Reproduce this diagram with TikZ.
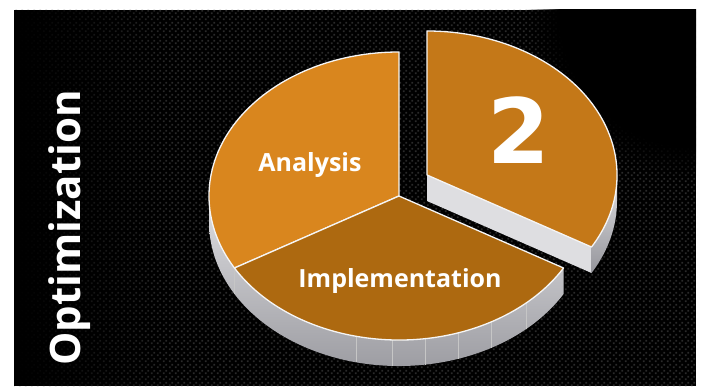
\documentclass[tikz,border=0pt]{standalone}
\usepackage{fontspec}
\setmainfont{Open Sans}
\newfontfamily\digitfont{DejaVu Sans}
\usetikzlibrary{patterns, fadings, calc}
\definecolor{analysis_orange}{RGB}{217,134,30}
\definecolor{impl_brown}{RGB}{173,105,16}
\definecolor{slice_orange}{RGB}{196,120,24}
\definecolor{rim_light}{RGB}{222,222,225}
\definecolor{rim_dark}{RGB}{150,150,156}
\definecolor{carbon_dot}{RGB}{42,42,42}
\pgfdeclarepatternformonly{carbonweave}{\pgfqpoint{0pt}{0pt}}{\pgfqpoint{6pt}{6pt}}{\pgfqpoint{6pt}{6pt}}{%
  \pgfpathrectangle{\pgfqpoint{1pt}{1pt}}{\pgfqpoint{2pt}{2pt}}%
  \pgfpathrectangle{\pgfqpoint{4pt}{4pt}}{\pgfqpoint{2pt}{2pt}}%
  \pgfusepath{fill}}

\begin{document}
\begin{tikzpicture}[x=1pt, y=1pt, line join=round,
    slicetop/.style={draw=white!92!gray, line width=1.3pt},
    rim/.style={top color=rim_light, bottom color=rim_dark},
    label/.style={text=white, font=\bfseries\fontsize{25}{30}\selectfont}]
  \useasboundingbox (0,0) rectangle (701,386);
  % carbon background
  \fill[black] (14,0) rectangle (696,376);
  \begin{scope}
    \clip (14,0) rectangle (696,376);
    \fill[pattern=carbonweave, pattern color=carbon_dot] (14,0) rectangle (696,376);
    \fill[black, path fading=east] (14,0) rectangle (170,376);
    \fill[black, path fading=circle with fuzzy edge 20 percent] (696,376) circle (170);
  \end{scope}
  \coordinate (C) at (399,190);
  \coordinate (E) at (427,211);
  % pulled-out slice, sides
  \fill[rim_light] (E) -- ++(330:190pt and 144pt) -- ++(0,-26) -- ($(E)+(0,-26)$) -- cycle;
  \fill[rim] (E) ++(330:190pt and 144pt) arc[start angle=330, end angle=360, x radius=190pt, y radius=144pt]
    -- ++(0,-26) arc[start angle=360, end angle=330, x radius=190pt, y radius=144pt] -- cycle;
  % main pie, side
  \fill[rim] (C) ++(180:190pt and 144pt) arc[start angle=180, end angle=330, x radius=190pt, y radius=144pt]
    -- ++(0,-26) arc[start angle=330, end angle=180, x radius=190pt, y radius=144pt] -- cycle;
  \foreach \t in {210,257,268,278,288,299,312}
    \draw[gray!45, line width=0.4pt] (C) ++(\t:190pt and 144pt) -- ++(0,-26);
  % top faces
  \filldraw[slicetop, fill=analysis_orange] (C) -- ++(90:190pt and 144pt)
    arc[start angle=90, end angle=210, x radius=190pt, y radius=144pt] -- cycle;
  \filldraw[slicetop, fill=impl_brown] (C) -- ++(210:190pt and 144pt)
    arc[start angle=210, end angle=330, x radius=190pt, y radius=144pt] -- cycle;
  \filldraw[slicetop, fill=slice_orange] (E) -- ++(330:190pt and 144pt)
    arc[start angle=-30, end angle=90, x radius=190pt, y radius=144pt] -- cycle;
  % labels
  \node[label] (analysis) at (310,221) {Analysis};
  \node[label] (implementation) at (400,105) {Implementation};
  \node[text=white, font=\digitfont\bfseries\fontsize{90}{100}\selectfont] (step) at (519,256) {2};
  \node[text=white, font=\bfseries\fontsize{42}{48}\selectfont, rotate=90, anchor=base] (title) at (80,158) {Optimization};
\end{tikzpicture}
\end{document}
